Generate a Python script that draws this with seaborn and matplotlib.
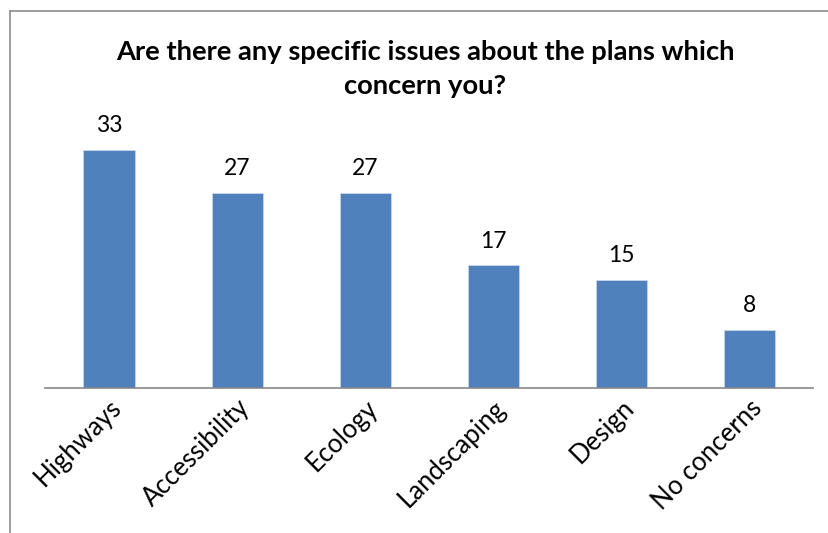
import matplotlib
matplotlib.use("Agg")
import matplotlib.pyplot as plt
from matplotlib.lines import Line2D
import seaborn as sns
import pandas as pd

categories = ["Highways", "Accessibility", "Ecology", "Landscaping", "Design", "No concerns"]
counts = [33, 27, 27, 17, 15, 8]
title = "Are there any specific issues about the plans which\nconcern you?"

sns.set_theme(style="white")
plt.rcParams["font.family"] = ["Lato", "DejaVu Sans"]

W, H = 829, 533
fig = plt.figure(figsize=(W / 100, H / 100), dpi=100)
ax = fig.add_axes([45 / W, (H - 388) / H, (813.5 - 45) / W, (388 - 135.6) / H])

df = pd.DataFrame({"issue": categories, "count": counts})
sns.barplot(data=df, x="issue", y="count", color="#4F81BD", saturation=1,
            width=0.4, ax=ax, edgecolor="#CBD7E9", linewidth=0.6)

ax.set_ylim(0, 35)
ax.set_xlim(-0.5, len(categories) - 0.5)
ax.set_xlabel("")
ax.set_ylabel("")
ax.set_yticks([])
for side in ["top", "right", "left"]:
    ax.spines[side].set_visible(False)
ax.spines["bottom"].set_color("#868686")
ax.spines["bottom"].set_linewidth(1.2)
ax.tick_params(axis="x", length=0, pad=5)
plt.setp(ax.get_xticklabels(), rotation=45, ha="right", rotation_mode="anchor",
         fontsize=18.5, color="black")

for container in ax.containers:
    ax.bar_label(container, labels=[str(v) for v in counts], padding=10,
                 fontsize=16.5, color="black")

fig.text(425 / W, 1 - 69 / H, title, ha="center", va="center",
         fontsize=19.7, fontweight="bold", linespacing=1.55, color="black")

# chart frame
fig.add_artist(Line2D([10.5 / W, 10.5 / W], [0, 1 - 11 / H], color="#8C8C8C", lw=1.2,
                      transform=fig.transFigure))
fig.add_artist(Line2D([10.5 / W, 1], [1 - 11 / H, 1 - 11 / H], color="#8C8C8C", lw=1.2,
                      transform=fig.transFigure))

fig.savefig("out.png", dpi=100, facecolor="white")
